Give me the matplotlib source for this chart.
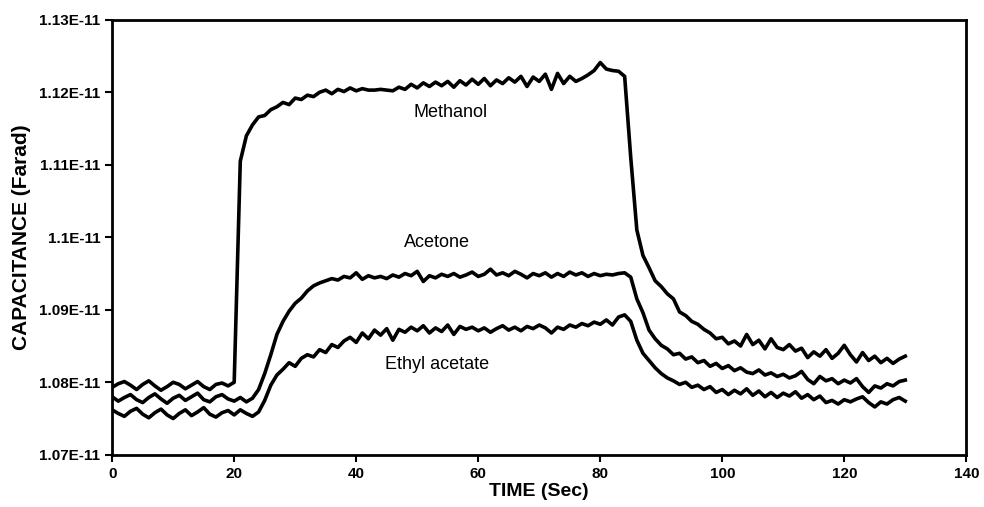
import numpy as np
import matplotlib
matplotlib.use("Agg")
import matplotlib.pyplot as plt

# capacitance readings, in units of 1e-11 F, one sample per second (t = 0..130 s)
methanol = [
    1.0793, 1.0798, 1.0801, 1.0796, 1.0790, 1.0797, 1.0802, 1.0795, 1.0789, 1.0794,
    1.0800, 1.0797, 1.0791, 1.0796, 1.0801, 1.0794, 1.0790, 1.0797, 1.0799, 1.0795,
    1.0800, 1.1105, 1.1140, 1.1155, 1.1166, 1.1168, 1.1176, 1.1180, 1.1186, 1.1183,
    1.1192, 1.1190, 1.1196, 1.1194, 1.1200, 1.1203, 1.1198, 1.1204, 1.1201, 1.1206,
    1.1202, 1.1205, 1.1203, 1.1203, 1.1204, 1.1203, 1.1202, 1.1207, 1.1204, 1.1211,
    1.1206, 1.1213, 1.1208, 1.1214, 1.1209, 1.1215, 1.1207, 1.1216, 1.1210, 1.1218,
    1.1211, 1.1219, 1.1209, 1.1217, 1.1212, 1.1220, 1.1214, 1.1222, 1.1208, 1.1221,
    1.1215, 1.1225, 1.1204, 1.1226, 1.1212, 1.1222, 1.1215, 1.1219, 1.1224, 1.1230,
    1.1241, 1.1232, 1.1230, 1.1229, 1.1222, 1.1110, 1.1010, 1.0975, 1.0958, 1.0940,
    1.0932, 1.0922, 1.0915, 1.0897, 1.0892, 1.0884, 1.0880, 1.0873, 1.0868, 1.0860,
    1.0862, 1.0853, 1.0857, 1.0850, 1.0866, 1.0852, 1.0858, 1.0846, 1.0860, 1.0848,
    1.0845, 1.0852, 1.0843, 1.0847, 1.0834, 1.0842, 1.0836, 1.0845, 1.0833, 1.0840,
    1.0851, 1.0838, 1.0828, 1.0841, 1.0830, 1.0836, 1.0827, 1.0833, 1.0826, 1.0832,
    1.0836,
]

acetone = [
    1.0780, 1.0774, 1.0779, 1.0783, 1.0776, 1.0772, 1.0779, 1.0784, 1.0777, 1.0771,
    1.0778, 1.0782, 1.0775, 1.0780, 1.0785, 1.0776, 1.0773, 1.0780, 1.0783, 1.0777,
    1.0774, 1.0779, 1.0773, 1.0778, 1.0790, 1.0812, 1.0838, 1.0866, 1.0884, 1.0898,
    1.0909, 1.0916, 1.0926, 1.0933, 1.0937, 1.0940, 1.0943, 1.0941, 1.0946, 1.0944,
    1.0951, 1.0942, 1.0947, 1.0944, 1.0946, 1.0943, 1.0948, 1.0945, 1.0950, 1.0947,
    1.0953, 1.0939, 1.0947, 1.0944, 1.0949, 1.0946, 1.0950, 1.0945, 1.0948, 1.0952,
    1.0946, 1.0949, 1.0956, 1.0948, 1.0951, 1.0947, 1.0953, 1.0949, 1.0944, 1.0950,
    1.0947, 1.0951, 1.0945, 1.0950, 1.0946, 1.0952, 1.0948, 1.0951, 1.0946, 1.0950,
    1.0947, 1.0949, 1.0948, 1.0950, 1.0951, 1.0945, 1.0915, 1.0896, 1.0872, 1.0860,
    1.0851, 1.0846, 1.0838, 1.0840, 1.0832, 1.0835, 1.0827, 1.0830, 1.0822, 1.0826,
    1.0819, 1.0823, 1.0816, 1.0820, 1.0814, 1.0812, 1.0817, 1.0810, 1.0813, 1.0808,
    1.0811, 1.0806, 1.0809, 1.0815, 1.0804, 1.0798, 1.0808, 1.0802, 1.0805, 1.0798,
    1.0803, 1.0799, 1.0805, 1.0794, 1.0786, 1.0795, 1.0792, 1.0798, 1.0795, 1.0801,
    1.0803,
]

ethyl_acetate = [
    1.0762, 1.0757, 1.0753, 1.0760, 1.0764, 1.0756, 1.0751, 1.0758, 1.0763, 1.0755,
    1.0750, 1.0757, 1.0762, 1.0754, 1.0759, 1.0765, 1.0756, 1.0752, 1.0758, 1.0761,
    1.0755, 1.0762, 1.0757, 1.0753, 1.0759, 1.0775, 1.0796, 1.0810, 1.0818, 1.0827,
    1.0822, 1.0833, 1.0838, 1.0835, 1.0845, 1.0841, 1.0852, 1.0848, 1.0857, 1.0862,
    1.0855, 1.0868, 1.0860, 1.0872, 1.0865, 1.0874, 1.0858, 1.0873, 1.0869, 1.0876,
    1.0871, 1.0878, 1.0868, 1.0875, 1.0870, 1.0879, 1.0866, 1.0877, 1.0873, 1.0876,
    1.0871, 1.0875, 1.0869, 1.0874, 1.0878, 1.0872, 1.0876, 1.0871, 1.0877, 1.0874,
    1.0879, 1.0875, 1.0868, 1.0876, 1.0873, 1.0879, 1.0876, 1.0881, 1.0878, 1.0883,
    1.0880, 1.0886, 1.0879, 1.0890, 1.0893, 1.0884, 1.0858, 1.0840, 1.0830, 1.0820,
    1.0812, 1.0806, 1.0802, 1.0797, 1.0800, 1.0793, 1.0796, 1.0790, 1.0794, 1.0786,
    1.0790, 1.0783, 1.0789, 1.0784, 1.0791, 1.0782, 1.0788, 1.0780, 1.0786, 1.0779,
    1.0785, 1.0781, 1.0787, 1.0778, 1.0783, 1.0776, 1.0781, 1.0772, 1.0775, 1.0770,
    1.0776, 1.0773, 1.0777, 1.0780, 1.0772, 1.0766, 1.0773, 1.0770, 1.0776, 1.0779,
    1.0774,
]

x_ticks = [0, 20, 40, 60, 80, 100, 120, 140]
y_ticks = [1.07, 1.08, 1.09, 1.10, 1.11, 1.12, 1.13]
y_tick_labels = ["1.07E-11", "1.08E-11", "1.09E-11", "1.1E-11", "1.11E-11", "1.12E-11", "1.13E-11"]

# curve labels: (text, time, capacitance in 1e-11 F)
curve_labels = [("Methanol", 55.5, 1.1172), ("Acetone", 53.3, 1.0993), ("Ethyl acetate", 53.3, 1.0825)]

plt.rcParams["font.family"] = ["Liberation Sans Narrow", "Liberation Sans", "DejaVu Sans"]

fig = plt.figure(figsize=(9.84, 5.07), dpi=100)
ax = fig.add_axes([0.114, 0.103, 0.868, 0.858])

for series in (methanol, acetone, ethyl_acetate):
    t = np.arange(len(series))
    ax.plot(t, np.array(series) * 1e-11, color="black", lw=2.6, solid_joinstyle="round")

for text, tx, ty in curve_labels:
    ax.text(tx, ty * 1e-11, text, ha="center", va="center", fontsize=13, color="black")

ax.set_xlim(0, 140)
ax.set_ylim(1.07e-11, 1.13e-11)
ax.set_xticks(x_ticks)
ax.set_yticks([v * 1e-11 for v in y_ticks])
ax.set_yticklabels(y_tick_labels)

ax.tick_params(direction="out", length=5, width=1.5, labelsize=11)
for lab in ax.get_xticklabels() + ax.get_yticklabels():
    lab.set_fontweight("bold")
for s in ax.spines.values():
    s.set_linewidth(2.0)

ax.set_xlabel("TIME (Sec)", fontsize=14, fontweight="bold", labelpad=2)
ax.set_ylabel("CAPACITANCE (Farad)", fontsize=15, fontweight="bold",
              family=["Liberation Sans", "DejaVu Sans"], labelpad=6)

fig.savefig("out.png", dpi=100)
